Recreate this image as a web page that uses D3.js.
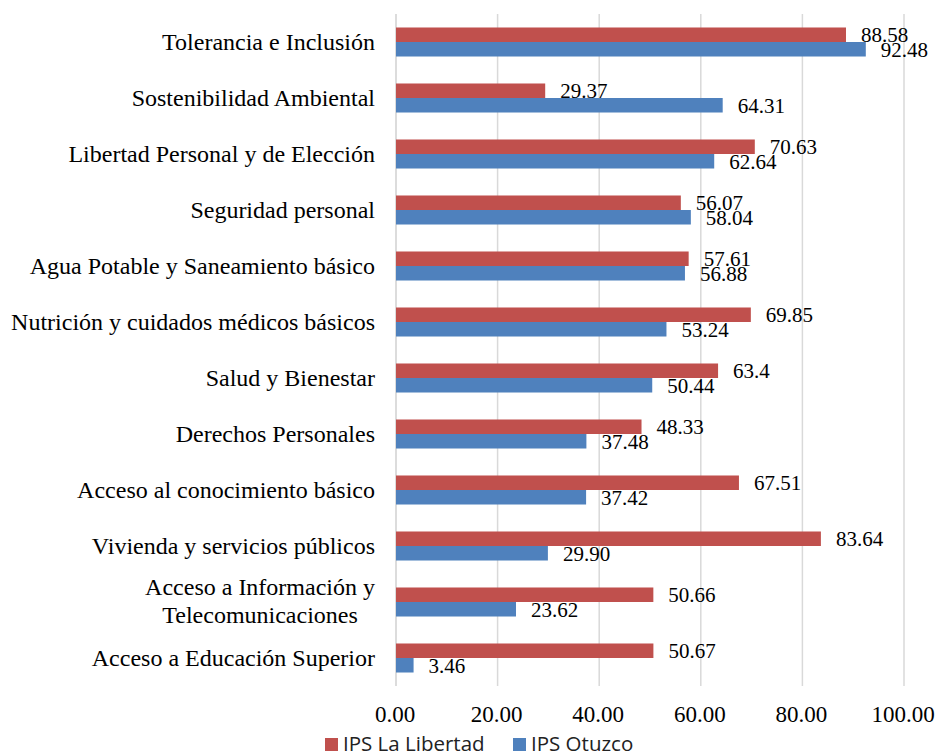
<!DOCTYPE html>
<html>
<head>
<meta charset="utf-8">
<script src="https://cdn.jsdelivr.net/npm/d3@7"></script>
<style>
  html, body { margin: 0; padding: 0; background: #fff; }
  svg { display: block; }
</style>
</head>
<body>
<svg id="chart" width="939" height="753"></svg>
<script>
// Dimensions of the Social Progress Index, top to bottom
const categories = [
  "Tolerancia e Inclusión",
  "Sostenibilidad Ambiental",
  "Libertad Personal y de Elección",
  "Seguridad personal",
  "Agua Potable y Saneamiento básico",
  "Nutrición y cuidados médicos básicos",
  "Salud y Bienestar",
  "Derechos Personales",
  "Acceso al conocimiento básico",
  "Vivienda y servicios públicos",
  "Acceso a Información y\nTelecomunicaciones",
  "Acceso a Educación Superior"
];
// Scores as printed on each bar
const laLibertad = ["88.58", "29.37", "70.63", "56.07", "57.61", "69.85", "63.4", "48.33", "67.51", "83.64", "50.66", "50.67"];
const otuzco     = ["92.48", "64.31", "62.64", "58.04", "56.88", "53.24", "50.44", "37.48", "37.42", "29.90", "23.62", "3.46"];
const seriesNames = ["IPS La Libertad", "IPS Otuzco"];
const seriesColors = ["#C0504D", "#4F81BD"];
const xTicks = [0, 20, 40, 60, 80, 100];

const svg = d3.select("#chart");
const serif = "'Liberation Serif', 'Times New Roman', Tinos, 'DejaVu Serif', serif";

const x = d3.scaleLinear().domain([0, 100]).range([396, 904]);
const y = d3.scaleBand().domain(categories).range([14, 686]);
const ySub = d3.scaleBand().domain(seriesNames).range([0, y.bandwidth()]).paddingOuter(0.93);

// vertical gridlines
svg.append("g").selectAll("line").data(xTicks.slice(1)).join("line")
  .attr("x1", d => x(d)).attr("x2", d => x(d))
  .attr("y1", 14).attr("y2", 686)
  .attr("stroke", "#D9D9D9").attr("stroke-width", 1.5);

// category axis line
svg.append("line")
  .attr("x1", x(0)).attr("x2", x(0)).attr("y1", 14).attr("y2", 686)
  .attr("stroke", "#D0D0D0").attr("stroke-width", 1.5);

const rows = categories.map((c, i) => ({
  cat: c,
  vals: [laLibertad[i], otuzco[i]]
}));

const groups = svg.append("g").selectAll("g").data(rows).join("g")
  .attr("transform", d => `translate(0,${y(d.cat)})`);

groups.selectAll("rect").data(d => d.vals.map((v, j) => ({ v, j }))).join("rect")
  .attr("x", x(0))
  .attr("y", d => ySub(seriesNames[d.j]))
  .attr("width", d => x(+d.v) - x(0))
  .attr("height", ySub.bandwidth())
  .attr("fill", d => seriesColors[d.j]);

// value labels, baseline resting on the bar's lower edge
groups.selectAll("text.val").data(d => d.vals.map((v, j) => ({ v, j }))).join("text")
  .attr("class", "val")
  .attr("x", d => x(+d.v) + 15)
  .attr("y", d => ySub(seriesNames[d.j]) + ySub.bandwidth())
  .attr("font-family", serif)
  .attr("font-size", 21)
  .attr("fill", "#000")
  .text(d => d.v);

// category labels
const catLabels = svg.append("g").selectAll("text").data(categories).join("text")
  .attr("font-family", serif)
  .attr("font-size", 24)
  .attr("fill", "#000");

catLabels.each(function (c) {
  const t = d3.select(this);
  const lines = c.split("\n");
  const cy = y(c) + y.bandwidth() / 2;
  if (lines.length === 1) {
    t.attr("x", 375).attr("y", cy + 7.5).attr("text-anchor", "end").text(c);
  } else {
    const first = t.append("tspan").attr("x", 375).attr("y", cy - 7)
      .attr("text-anchor", "end").text(lines[0]);
    const w = first.node().getComputedTextLength();
    t.append("tspan").attr("x", 375 - w / 2).attr("y", cy + 21.3)
      .attr("text-anchor", "middle").text(lines[1]);
  }
});

// value axis tick labels
svg.append("g").selectAll("text").data(xTicks).join("text")
  .attr("x", d => x(d) - 1)
  .attr("y", 722)
  .attr("text-anchor", "middle")
  .attr("font-family", serif)
  .attr("font-size", 23)
  .attr("fill", "#000")
  .text(d => d3.format(".2f")(d));

// legend
const legendX = [325, 513];
const legend = svg.append("g").selectAll("g").data(seriesNames).join("g")
  .attr("transform", (d, i) => `translate(${legendX[i]},738)`);
legend.append("rect").attr("width", 13).attr("height", 13)
  .attr("fill", (d, i) => seriesColors[i]);
legend.append("text").attr("x", 18).attr("y", 13)
  .attr("font-family", "'Open Sans', 'Liberation Sans', sans-serif")
  .attr("font-size", 20.5)
  .attr("fill", "#222")
  .text(d => d);
</script>
</body>
</html>
